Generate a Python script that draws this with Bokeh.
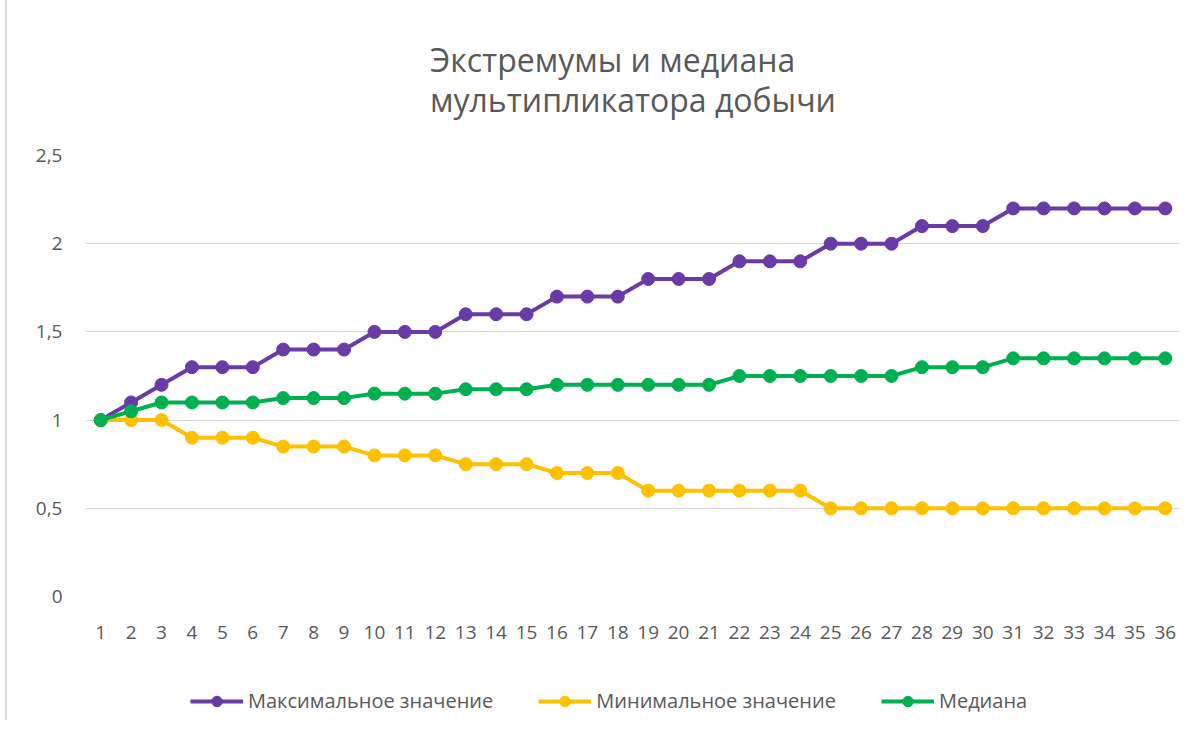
from bokeh.plotting import figure
from bokeh.layouts import column
from bokeh.models import ColumnDataSource, Legend, LegendItem, FixedTicker, Title, Range1d
from bokeh.embed import file_html
from bokeh.resources import INLINE

periods = list(range(1, 37))
max_vals = [1.0, 1.1, 1.2, 1.3, 1.3, 1.3, 1.4, 1.4, 1.4, 1.5, 1.5, 1.5,
            1.6, 1.6, 1.6, 1.7, 1.7, 1.7, 1.8, 1.8, 1.8, 1.9, 1.9, 1.9,
            2.0, 2.0, 2.0, 2.1, 2.1, 2.1, 2.2, 2.2, 2.2, 2.2, 2.2, 2.2]
min_vals = [1.0, 1.0, 1.0, 0.9, 0.9, 0.9, 0.85, 0.85, 0.85, 0.8, 0.8, 0.8,
            0.75, 0.75, 0.75, 0.7, 0.7, 0.7, 0.6, 0.6, 0.6, 0.6, 0.6, 0.6,
            0.5, 0.5, 0.5, 0.5, 0.5, 0.5, 0.5, 0.5, 0.5, 0.5, 0.5, 0.5]
median_vals = [1.0, 1.05, 1.1, 1.1, 1.1, 1.1, 1.125, 1.125, 1.125, 1.15, 1.15, 1.15,
               1.175, 1.175, 1.175, 1.2, 1.2, 1.2, 1.2, 1.2, 1.2, 1.25, 1.25, 1.25,
               1.25, 1.25, 1.25, 1.3, 1.3, 1.3, 1.35, 1.35, 1.35, 1.35, 1.35, 1.35]
series_names = ["Максимальное значение", "Минимальное значение", "Медиана"]
y_ticks = [0, 0.5, 1, 1.5, 2, 2.5]
y_tick_labels = ["0", "0,5", "1", "1,5", "2", "2,5"]
title_text = "Экстремумы и медиана\nмультипликатора добычи"

colors = ["#6a3aa6", "#ffc000", "#00b050"]
FONT = "Open Sans"
TXT = "#595959"

W = 1183
H1, H2 = 660, 60
p = figure(width=W, height=H1, output_backend="svg", toolbar_location=None,
           x_range=Range1d(0.5, 36.5), y_range=Range1d(0, 2.5),
           min_border_left=78, min_border_right=10, min_border_top=155, min_border_bottom=64)
p.outline_line_color = None
p.background_fill_color = "white"
p.border_fill_color = "white"

p.xgrid.grid_line_color = None
p.ygrid.grid_line_color = "#d9d9d9"
p.ygrid.grid_line_width = 1
p.yaxis.ticker = FixedTicker(ticks=y_ticks)
p.yaxis.major_label_overrides = {t: l for t, l in zip(y_ticks, y_tick_labels)}
p.xaxis.ticker = FixedTicker(ticks=periods)
for ax in (p.xaxis[0], p.yaxis[0]):
    ax.axis_line_color = None
    ax.major_tick_line_color = None
    ax.minor_tick_line_color = None
    ax.major_label_text_font = FONT
    ax.major_label_text_font_size = "19px"
    ax.major_label_text_color = TXT
p.yaxis.major_label_standoff = 17
p.xaxis.major_label_standoff = 23

p.title = Title(text=title_text, align="center", standoff=69, offset=-15, text_font=FONT,
                text_font_size="32px", text_color=TXT, text_font_style="normal",
                text_line_height=0.92)

src = ColumnDataSource(dict(x=periods, mx=max_vals, mn=min_vals, md=median_vals))
for key, c in zip(["mx", "mn", "md"], colors):
    p.line("x", key, source=src, line_color=c, line_width=4)
    p.scatter("x", key, source=src, size=13, fill_color=c, line_color=c)

# legend strip below the chart (legend swatches only; the dummy point lies outside the view)
q = figure(width=W, height=H2, output_backend="svg", toolbar_location=None,
           x_range=Range1d(0, 1), y_range=Range1d(0, 1),
           min_border_left=0, min_border_right=0, min_border_top=0, min_border_bottom=0)
q.axis.visible = False
q.grid.grid_line_color = None
q.outline_line_color = None
items = []
swatch = ColumnDataSource(dict(x=[-5, -4], y=[-5, -5]))
for name, c in zip(series_names, colors):
    l = q.line("x", "y", source=swatch, line_color=c, line_width=4)
    s = q.scatter("x", "y", source=swatch, size=13, fill_color=c, line_color=c)
    items.append(LegendItem(label=name, renderers=[l, s]))
legend = Legend(items=items, orientation="horizontal", location=(105, 6),
                glyph_width=53, glyph_height=26, label_standoff=5, spacing=45,
                padding=0, margin=0, border_line_color=None, background_fill_alpha=0,
                label_text_font=FONT, label_text_font_size="20px", label_text_color=TXT)
q.add_layout(legend, "center")

layout = column(p, q, spacing=0)
layout.styles = {"margin-left": "5px", "border-left": "2px solid #d9d9d9"}
open("out.html", "w").write(file_html(layout, INLINE))
